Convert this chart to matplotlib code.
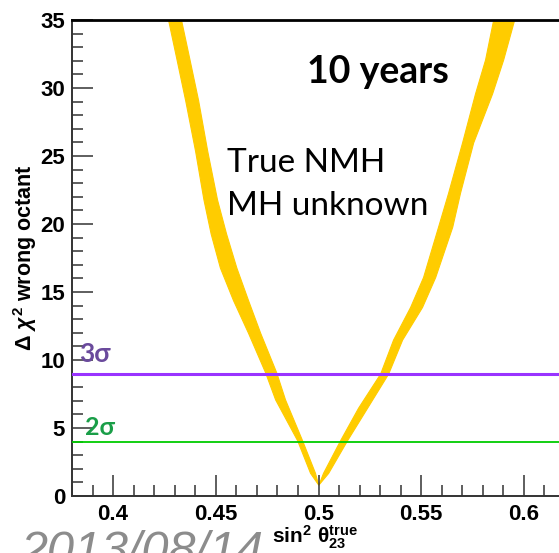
import numpy as np
import matplotlib
matplotlib.use("Agg")
from matplotlib import pyplot as plt
from matplotlib.ticker import MultipleLocator, FuncFormatter

# Delta chi^2 levels and the band edges (sin^2 theta23) on each side of maximal mixing
chi2_left = [36.0, 35.0, 32.1, 29.1, 25.4, 21.8, 19.3, 16.8, 14.4, 12.0, 9.1, 7.1, 4.1, 1.7, 0.85]
left_lo = [0.4258, 0.4268, 0.4309, 0.4351, 0.4399, 0.4440, 0.4475, 0.4520, 0.4584, 0.4657, 0.4740, 0.4789, 0.4896, 0.4959, 0.4998]
left_hi = [0.4321, 0.4331, 0.4372, 0.4414, 0.4458, 0.4506, 0.4550, 0.4600, 0.4657, 0.4716, 0.4794, 0.4837, 0.4920, 0.4983, 0.4998]

chi2_right = [0.85, 1.7, 4.1, 6.5, 9.0, 11.5, 13.9, 16.1, 19.8, 22.3, 26.0, 29.6, 32.1, 35.0, 36.0]
right_lo = [0.5000, 0.5022, 0.5105, 0.5193, 0.5300, 0.5363, 0.5446, 0.5509, 0.5582, 0.5631, 0.5699, 0.5762, 0.5811, 0.5850, 0.5865]
right_hi = [0.5000, 0.5047, 0.5139, 0.5237, 0.5339, 0.5407, 0.5504, 0.5568, 0.5651, 0.5689, 0.5753, 0.5845, 0.5899, 0.5952, 0.5967]

sigma_levels = [9.0, 4.0]
sigma_labels = ["3σ", "2σ"]
sigma_colors = ["#9933ff", "#00cc00"]
sigma_text_colors = ["#6a4a9c", "#1a9e48"]

plt.rcParams["font.family"] = ["Liberation Sans", "DejaVu Sans"]
plt.rcParams["font.weight"] = "bold"
plt.rcParams["mathtext.fontset"] = "custom"
plt.rcParams["mathtext.rm"] = "Liberation Sans:bold"
plt.rcParams["mathtext.it"] = "Liberation Sans:italic:bold"
plt.rcParams["mathtext.bf"] = "Liberation Sans:bold"

fig = plt.figure(figsize=(5.59, 5.53), dpi=100)
ax = fig.add_axes([72 / 559, 57 / 553, 493 / 559, 476 / 553])

band = "#ffcc00"
ax.fill_betweenx(chi2_left, left_lo, left_hi, color=band, lw=0.8, ec=band)
ax.fill_betweenx(chi2_right, right_lo, right_hi, color=band, lw=0.8, ec=band)

for lvl, col, w in zip(sigma_levels, sigma_colors, [2.2, 1.3]):
    ax.axhline(lvl, color=col, lw=w, zorder=3)

ax.set_xlim(0.38, 0.62)
ax.set_ylim(0, 35)

ax.xaxis.set_major_locator(MultipleLocator(0.05))
ax.xaxis.set_minor_locator(MultipleLocator(0.01))
ax.yaxis.set_major_locator(MultipleLocator(5))
ax.yaxis.set_minor_locator(MultipleLocator(1))
ax.xaxis.set_major_formatter(FuncFormatter(lambda v, p: f"{v:g}"))
ax.tick_params(which="both", direction="in", color="#333333", width=1.1, labelsize=16)
ax.tick_params(which="major", length=15)
ax.tick_params(which="minor", length=8)
ax.tick_params(axis="y", pad=5)
ax.tick_params(axis="x", pad=6)

ax.spines["right"].set_visible(False)
ax.spines["top"].set_linewidth(2)
ax.spines["top"].set_color("black")
for side in ["left", "bottom"]:
    ax.spines[side].set_color("#333333")
    ax.spines[side].set_linewidth(1.4)

fig.text(25 / 559, 1 - 258 / 553, r"$\Delta\ \chi^{2}$ wrong octant", rotation=90,
         ha="center", va="center", fontsize=15.5, fontweight="bold")
fig.text(272 / 559, 1 - 551 / 553, r"$\mathrm{sin}^{2}\ \mathrm{θ}_{23}^{\mathrm{true}}$",
         ha="left", va="bottom", fontsize=15, fontweight="bold")

ax.text(0.4944, 30.4, "10 years", fontsize=27, fontweight="bold", family="Lato")
ax.text(0.4555, 23.8, "True NMH", fontsize=24, fontweight="normal", family="Lato")
ax.text(0.4555, 20.65, "MH unknown", fontsize=24, fontweight="normal", family="Lato")

ax.text(0.3835, 9.85, sigma_labels[0], color=sigma_text_colors[0], fontsize=19,
        fontweight="bold", family="Lato")
ax.text(0.3865, 4.45, sigma_labels[1], color=sigma_text_colors[1], fontsize=18,
        fontweight="bold", family="Lato")

fig.text(20 / 559, 1 - 565 / 553, "2013/08/14", color="#8c8c8c", fontsize=35,
         style="italic", fontweight="normal", ha="left", va="baseline")

fig.savefig("out.png", dpi=100)
